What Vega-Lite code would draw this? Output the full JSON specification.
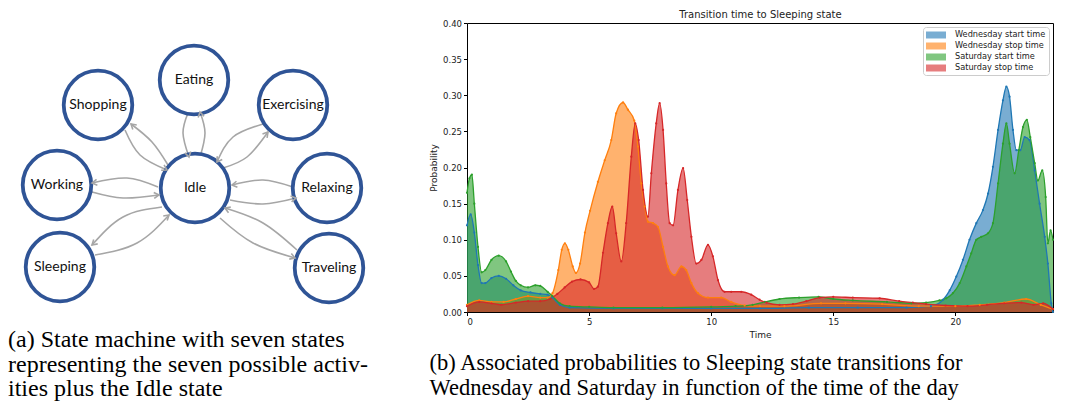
{
  "$schema": "https://vega.github.io/schema/vega-lite/v6.json",
  "background": "white",
  "padding": {"left": 0, "top": 8, "right": 0, "bottom": 0},
  "spacing": 9,
  "resolve": {"scale": {"color": "independent"}, "legend": {"color": "independent"}},
  "config": {"view": {"stroke": null}, "font": "DejaVu Sans"},
  "datasets": {
    "nodes": [
      {"name": "Eating", "x": 194, "y": 80},
      {"name": "Shopping", "x": 98, "y": 105},
      {"name": "Exercising", "x": 293, "y": 105},
      {"name": "Working", "x": 57, "y": 185},
      {"name": "Idle", "x": 195, "y": 188},
      {"name": "Relaxing", "x": 327, "y": 188},
      {"name": "Sleeping", "x": 60, "y": 267},
      {"name": "Traveling", "x": 329, "y": 268}
    ],
    "edges": [
      {"e": "S1", "k": 0, "x": 168, "y": 165}, {"e": "S1", "k": 1, "x": 152, "y": 142}, {"e": "S1", "k": 2, "x": 131, "y": 124},
      {"e": "S2", "k": 0, "x": 125, "y": 130}, {"e": "S2", "k": 1, "x": 140, "y": 155}, {"e": "S2", "k": 2, "x": 167, "y": 170},
      {"e": "E1", "k": 0, "x": 188, "y": 113}, {"e": "E1", "k": 1, "x": 183, "y": 133}, {"e": "E1", "k": 2, "x": 189, "y": 157},
      {"e": "E2", "k": 0, "x": 200, "y": 157}, {"e": "E2", "k": 1, "x": 205, "y": 133}, {"e": "E2", "k": 2, "x": 200, "y": 112},
      {"e": "X1", "k": 0, "x": 223, "y": 168}, {"e": "X1", "k": 1, "x": 247, "y": 157}, {"e": "X1", "k": 2, "x": 268, "y": 132},
      {"e": "X2", "k": 0, "x": 263, "y": 124}, {"e": "X2", "k": 1, "x": 233, "y": 137}, {"e": "X2", "k": 2, "x": 217, "y": 162},
      {"e": "W1", "k": 0, "x": 158, "y": 187}, {"e": "W1", "k": 1, "x": 127, "y": 178}, {"e": "W1", "k": 2, "x": 92, "y": 183},
      {"e": "W2", "k": 0, "x": 92, "y": 192}, {"e": "W2", "k": 1, "x": 123, "y": 198}, {"e": "W2", "k": 2, "x": 159, "y": 195},
      {"e": "R1", "k": 0, "x": 293, "y": 187}, {"e": "R1", "k": 1, "x": 263, "y": 180}, {"e": "R1", "k": 2, "x": 232, "y": 185},
      {"e": "R2", "k": 0, "x": 230, "y": 200}, {"e": "R2", "k": 1, "x": 263, "y": 204}, {"e": "R2", "k": 2, "x": 296, "y": 198},
      {"e": "L1", "k": 0, "x": 162, "y": 207}, {"e": "L1", "k": 1, "x": 123, "y": 217}, {"e": "L1", "k": 2, "x": 92, "y": 245},
      {"e": "L2", "k": 0, "x": 95, "y": 255}, {"e": "L2", "k": 1, "x": 137, "y": 243}, {"e": "L2", "k": 2, "x": 169, "y": 215},
      {"e": "T1", "k": 0, "x": 297, "y": 250}, {"e": "T1", "k": 1, "x": 263, "y": 223}, {"e": "T1", "k": 2, "x": 225, "y": 208},
      {"e": "T2", "k": 0, "x": 220, "y": 218}, {"e": "T2", "k": 1, "x": 253, "y": 243}, {"e": "T2", "k": 2, "x": 295, "y": 258}
    ],
    "heads": [
      {"e": "S1", "x": 131, "y": 124, "a": -49},
      {"e": "S2", "x": 167, "y": 170, "a": 119},
      {"e": "E1", "x": 189, "y": 157, "a": 166},
      {"e": "E2", "x": 200, "y": 112, "a": -13},
      {"e": "X1", "x": 268, "y": 132, "a": 40},
      {"e": "X2", "x": 217, "y": 162, "a": -147},
      {"e": "W1", "x": 92, "y": 183, "a": -98},
      {"e": "W2", "x": 159, "y": 195, "a": 85},
      {"e": "R1", "x": 232, "y": 185, "a": -99},
      {"e": "R2", "x": 296, "y": 198, "a": 80},
      {"e": "L1", "x": 92, "y": 245, "a": -132},
      {"e": "L2", "x": 169, "y": 215, "a": 49},
      {"e": "T1", "x": 225, "y": 208, "a": -68},
      {"e": "T2", "x": 295, "y": 258, "a": 110}
    ],
    "hist": [
      {"s": "Wednesday start time", "t": 0, "p": 0.12},
      {"s": "Wednesday start time", "t": 0.15, "p": 0.135},
      {"s": "Wednesday start time", "t": 0.3, "p": 0.11},
      {"s": "Wednesday start time", "t": 0.45, "p": 0.065},
      {"s": "Wednesday start time", "t": 0.6, "p": 0.04},
      {"s": "Wednesday start time", "t": 0.75, "p": 0.04},
      {"s": "Wednesday start time", "t": 1.0, "p": 0.047},
      {"s": "Wednesday start time", "t": 1.3, "p": 0.05},
      {"s": "Wednesday start time", "t": 1.6, "p": 0.046},
      {"s": "Wednesday start time", "t": 1.9, "p": 0.037},
      {"s": "Wednesday start time", "t": 2.2, "p": 0.03},
      {"s": "Wednesday start time", "t": 2.6, "p": 0.027},
      {"s": "Wednesday start time", "t": 3.0, "p": 0.025},
      {"s": "Wednesday start time", "t": 3.3, "p": 0.024},
      {"s": "Wednesday start time", "t": 3.5, "p": 0.02},
      {"s": "Wednesday start time", "t": 3.8, "p": 0.01},
      {"s": "Wednesday start time", "t": 4.2, "p": 0.006},
      {"s": "Wednesday start time", "t": 6, "p": 0.005},
      {"s": "Wednesday start time", "t": 8, "p": 0.005},
      {"s": "Wednesday start time", "t": 10, "p": 0.005},
      {"s": "Wednesday start time", "t": 12, "p": 0.005},
      {"s": "Wednesday start time", "t": 14, "p": 0.006},
      {"s": "Wednesday start time", "t": 16, "p": 0.006},
      {"s": "Wednesday start time", "t": 18, "p": 0.006},
      {"s": "Wednesday start time", "t": 19, "p": 0.008},
      {"s": "Wednesday start time", "t": 19.5, "p": 0.017},
      {"s": "Wednesday start time", "t": 19.77, "p": 0.03},
      {"s": "Wednesday start time", "t": 20.04, "p": 0.049},
      {"s": "Wednesday start time", "t": 20.31, "p": 0.072},
      {"s": "Wednesday start time", "t": 20.58, "p": 0.1},
      {"s": "Wednesday start time", "t": 20.86, "p": 0.123},
      {"s": "Wednesday start time", "t": 21.13, "p": 0.141},
      {"s": "Wednesday start time", "t": 21.34, "p": 0.164},
      {"s": "Wednesday start time", "t": 21.54, "p": 0.201},
      {"s": "Wednesday start time", "t": 21.75, "p": 0.252},
      {"s": "Wednesday start time", "t": 21.95, "p": 0.293},
      {"s": "Wednesday start time", "t": 22.09, "p": 0.312},
      {"s": "Wednesday start time", "t": 22.22, "p": 0.298},
      {"s": "Wednesday start time", "t": 22.36, "p": 0.252},
      {"s": "Wednesday start time", "t": 22.5, "p": 0.224},
      {"s": "Wednesday start time", "t": 22.66, "p": 0.224},
      {"s": "Wednesday start time", "t": 22.84, "p": 0.242},
      {"s": "Wednesday start time", "t": 23.04, "p": 0.238},
      {"s": "Wednesday start time", "t": 23.25, "p": 0.196},
      {"s": "Wednesday start time", "t": 23.45, "p": 0.15},
      {"s": "Wednesday start time", "t": 23.66, "p": 0.104},
      {"s": "Wednesday start time", "t": 23.79, "p": 0.067},
      {"s": "Wednesday start time", "t": 23.93, "p": 0.012},
      {"s": "Wednesday start time", "t": 24, "p": 0},

      {"s": "Wednesday stop time", "t": 0, "p": 0.01},
      {"s": "Wednesday stop time", "t": 0.5, "p": 0.016},
      {"s": "Wednesday stop time", "t": 1.0, "p": 0.014},
      {"s": "Wednesday stop time", "t": 1.5, "p": 0.014},
      {"s": "Wednesday stop time", "t": 2.0, "p": 0.018},
      {"s": "Wednesday stop time", "t": 2.5, "p": 0.022},
      {"s": "Wednesday stop time", "t": 3.0, "p": 0.02},
      {"s": "Wednesday stop time", "t": 3.3, "p": 0.02},
      {"s": "Wednesday stop time", "t": 3.5, "p": 0.026},
      {"s": "Wednesday stop time", "t": 3.74, "p": 0.058},
      {"s": "Wednesday stop time", "t": 3.88, "p": 0.086},
      {"s": "Wednesday stop time", "t": 4.01, "p": 0.095},
      {"s": "Wednesday stop time", "t": 4.15, "p": 0.086},
      {"s": "Wednesday stop time", "t": 4.33, "p": 0.063},
      {"s": "Wednesday stop time", "t": 4.46, "p": 0.054},
      {"s": "Wednesday stop time", "t": 4.63, "p": 0.067},
      {"s": "Wednesday stop time", "t": 4.83, "p": 0.11},
      {"s": "Wednesday stop time", "t": 5.04, "p": 0.14},
      {"s": "Wednesday stop time", "t": 5.36, "p": 0.18},
      {"s": "Wednesday stop time", "t": 5.64, "p": 0.21},
      {"s": "Wednesday stop time", "t": 5.91, "p": 0.238},
      {"s": "Wednesday stop time", "t": 6.11, "p": 0.275},
      {"s": "Wednesday stop time", "t": 6.39, "p": 0.29},
      {"s": "Wednesday stop time", "t": 6.59, "p": 0.28},
      {"s": "Wednesday stop time", "t": 6.85, "p": 0.265},
      {"s": "Wednesday stop time", "t": 7.0, "p": 0.229},
      {"s": "Wednesday stop time", "t": 7.14, "p": 0.178},
      {"s": "Wednesday stop time", "t": 7.28, "p": 0.146},
      {"s": "Wednesday stop time", "t": 7.41, "p": 0.125},
      {"s": "Wednesday stop time", "t": 7.62, "p": 0.123},
      {"s": "Wednesday stop time", "t": 7.82, "p": 0.118},
      {"s": "Wednesday stop time", "t": 8.03, "p": 0.09},
      {"s": "Wednesday stop time", "t": 8.23, "p": 0.063},
      {"s": "Wednesday stop time", "t": 8.5, "p": 0.051},
      {"s": "Wednesday stop time", "t": 8.78, "p": 0.063},
      {"s": "Wednesday stop time", "t": 8.98, "p": 0.058},
      {"s": "Wednesday stop time", "t": 9.19, "p": 0.04},
      {"s": "Wednesday stop time", "t": 9.46, "p": 0.026},
      {"s": "Wednesday stop time", "t": 9.87, "p": 0.02},
      {"s": "Wednesday stop time", "t": 10.41, "p": 0.02},
      {"s": "Wednesday stop time", "t": 10.82, "p": 0.014},
      {"s": "Wednesday stop time", "t": 11.37, "p": 0.009},
      {"s": "Wednesday stop time", "t": 12, "p": 0.008},
      {"s": "Wednesday stop time", "t": 13, "p": 0.008},
      {"s": "Wednesday stop time", "t": 14.5, "p": 0.012},
      {"s": "Wednesday stop time", "t": 15.5, "p": 0.012},
      {"s": "Wednesday stop time", "t": 17, "p": 0.011},
      {"s": "Wednesday stop time", "t": 18.5, "p": 0.008},
      {"s": "Wednesday stop time", "t": 20, "p": 0.008},
      {"s": "Wednesday stop time", "t": 21, "p": 0.01},
      {"s": "Wednesday stop time", "t": 22, "p": 0.013},
      {"s": "Wednesday stop time", "t": 22.9, "p": 0.018},
      {"s": "Wednesday stop time", "t": 23.5, "p": 0.01},
      {"s": "Wednesday stop time", "t": 24, "p": 0.004},

      {"s": "Saturday start time", "t": 0, "p": 0.165},
      {"s": "Saturday start time", "t": 0.1, "p": 0.185},
      {"s": "Saturday start time", "t": 0.2, "p": 0.19},
      {"s": "Saturday start time", "t": 0.3, "p": 0.15},
      {"s": "Saturday start time", "t": 0.45, "p": 0.09},
      {"s": "Saturday start time", "t": 0.6, "p": 0.055},
      {"s": "Saturday start time", "t": 0.75, "p": 0.058},
      {"s": "Saturday start time", "t": 1.0, "p": 0.072},
      {"s": "Saturday start time", "t": 1.3, "p": 0.078},
      {"s": "Saturday start time", "t": 1.6, "p": 0.07},
      {"s": "Saturday start time", "t": 1.8, "p": 0.056},
      {"s": "Saturday start time", "t": 2.0, "p": 0.043},
      {"s": "Saturday start time", "t": 2.2, "p": 0.037},
      {"s": "Saturday start time", "t": 2.5, "p": 0.034},
      {"s": "Saturday start time", "t": 2.8, "p": 0.037},
      {"s": "Saturday start time", "t": 3.0, "p": 0.036},
      {"s": "Saturday start time", "t": 3.3, "p": 0.028},
      {"s": "Saturday start time", "t": 3.5, "p": 0.022},
      {"s": "Saturday start time", "t": 3.8, "p": 0.012},
      {"s": "Saturday start time", "t": 4.2, "p": 0.008},
      {"s": "Saturday start time", "t": 5, "p": 0.007},
      {"s": "Saturday start time", "t": 6, "p": 0.006},
      {"s": "Saturday start time", "t": 8, "p": 0.006},
      {"s": "Saturday start time", "t": 10, "p": 0.007},
      {"s": "Saturday start time", "t": 11, "p": 0.008},
      {"s": "Saturday start time", "t": 11.7, "p": 0.01},
      {"s": "Saturday start time", "t": 12.2, "p": 0.014},
      {"s": "Saturday start time", "t": 12.8, "p": 0.018},
      {"s": "Saturday start time", "t": 13.6, "p": 0.02},
      {"s": "Saturday start time", "t": 14.4, "p": 0.021},
      {"s": "Saturday start time", "t": 15, "p": 0.018},
      {"s": "Saturday start time", "t": 15.8, "p": 0.016},
      {"s": "Saturday start time", "t": 17.2, "p": 0.014},
      {"s": "Saturday start time", "t": 18.2, "p": 0.012},
      {"s": "Saturday start time", "t": 18.8, "p": 0.013},
      {"s": "Saturday start time", "t": 19.35, "p": 0.016},
      {"s": "Saturday start time", "t": 19.63, "p": 0.019},
      {"s": "Saturday start time", "t": 19.9, "p": 0.026},
      {"s": "Saturday start time", "t": 20.18, "p": 0.04},
      {"s": "Saturday start time", "t": 20.45, "p": 0.063},
      {"s": "Saturday start time", "t": 20.65, "p": 0.081},
      {"s": "Saturday start time", "t": 20.86, "p": 0.1},
      {"s": "Saturday start time", "t": 21.06, "p": 0.104},
      {"s": "Saturday start time", "t": 21.34, "p": 0.109},
      {"s": "Saturday start time", "t": 21.54, "p": 0.123},
      {"s": "Saturday start time", "t": 21.75, "p": 0.178},
      {"s": "Saturday start time", "t": 21.95, "p": 0.233},
      {"s": "Saturday start time", "t": 22.09, "p": 0.261},
      {"s": "Saturday start time", "t": 22.22, "p": 0.233},
      {"s": "Saturday start time", "t": 22.43, "p": 0.192},
      {"s": "Saturday start time", "t": 22.6, "p": 0.224},
      {"s": "Saturday start time", "t": 22.77, "p": 0.256},
      {"s": "Saturday start time", "t": 22.93, "p": 0.266},
      {"s": "Saturday start time", "t": 23.07, "p": 0.242},
      {"s": "Saturday start time", "t": 23.25, "p": 0.206},
      {"s": "Saturday start time", "t": 23.38, "p": 0.182},
      {"s": "Saturday start time", "t": 23.56, "p": 0.196},
      {"s": "Saturday start time", "t": 23.7, "p": 0.159},
      {"s": "Saturday start time", "t": 23.79, "p": 0.095},
      {"s": "Saturday start time", "t": 23.9, "p": 0.113},
      {"s": "Saturday start time", "t": 24, "p": 0.1},

      {"s": "Saturday stop time", "t": 0, "p": 0.008},
      {"s": "Saturday stop time", "t": 0.5, "p": 0.014},
      {"s": "Saturday stop time", "t": 1.0, "p": 0.012},
      {"s": "Saturday stop time", "t": 1.4, "p": 0.01},
      {"s": "Saturday stop time", "t": 2.0, "p": 0.013},
      {"s": "Saturday stop time", "t": 2.5, "p": 0.015},
      {"s": "Saturday stop time", "t": 3.0, "p": 0.015},
      {"s": "Saturday stop time", "t": 3.4, "p": 0.018},
      {"s": "Saturday stop time", "t": 3.7, "p": 0.025},
      {"s": "Saturday stop time", "t": 4.0, "p": 0.034},
      {"s": "Saturday stop time", "t": 4.3, "p": 0.042},
      {"s": "Saturday stop time", "t": 4.65, "p": 0.045},
      {"s": "Saturday stop time", "t": 5.0, "p": 0.041},
      {"s": "Saturday stop time", "t": 5.2, "p": 0.032},
      {"s": "Saturday stop time", "t": 5.36, "p": 0.035},
      {"s": "Saturday stop time", "t": 5.57, "p": 0.082},
      {"s": "Saturday stop time", "t": 5.77, "p": 0.123},
      {"s": "Saturday stop time", "t": 5.95, "p": 0.146},
      {"s": "Saturday stop time", "t": 6.11, "p": 0.109},
      {"s": "Saturday stop time", "t": 6.32, "p": 0.07},
      {"s": "Saturday stop time", "t": 6.52, "p": 0.123},
      {"s": "Saturday stop time", "t": 6.73, "p": 0.215},
      {"s": "Saturday stop time", "t": 6.89, "p": 0.261},
      {"s": "Saturday stop time", "t": 7.03, "p": 0.238},
      {"s": "Saturday stop time", "t": 7.21, "p": 0.169},
      {"s": "Saturday stop time", "t": 7.41, "p": 0.132},
      {"s": "Saturday stop time", "t": 7.55, "p": 0.192},
      {"s": "Saturday stop time", "t": 7.75, "p": 0.261},
      {"s": "Saturday stop time", "t": 7.89, "p": 0.289},
      {"s": "Saturday stop time", "t": 8.03, "p": 0.252},
      {"s": "Saturday stop time", "t": 8.16, "p": 0.178},
      {"s": "Saturday stop time", "t": 8.3, "p": 0.123},
      {"s": "Saturday stop time", "t": 8.44, "p": 0.12},
      {"s": "Saturday stop time", "t": 8.64, "p": 0.169},
      {"s": "Saturday stop time", "t": 8.85, "p": 0.199},
      {"s": "Saturday stop time", "t": 9.02, "p": 0.155},
      {"s": "Saturday stop time", "t": 9.19, "p": 0.104},
      {"s": "Saturday stop time", "t": 9.39, "p": 0.067},
      {"s": "Saturday stop time", "t": 9.6, "p": 0.072},
      {"s": "Saturday stop time", "t": 9.87, "p": 0.093},
      {"s": "Saturday stop time", "t": 10.07, "p": 0.077},
      {"s": "Saturday stop time", "t": 10.28, "p": 0.044},
      {"s": "Saturday stop time", "t": 10.55, "p": 0.028},
      {"s": "Saturday stop time", "t": 10.82, "p": 0.028},
      {"s": "Saturday stop time", "t": 11.23, "p": 0.028},
      {"s": "Saturday stop time", "t": 11.64, "p": 0.024},
      {"s": "Saturday stop time", "t": 11.98, "p": 0.017},
      {"s": "Saturday stop time", "t": 12.26, "p": 0.013},
      {"s": "Saturday stop time", "t": 12.8, "p": 0.01},
      {"s": "Saturday stop time", "t": 13.35, "p": 0.011},
      {"s": "Saturday stop time", "t": 13.9, "p": 0.015},
      {"s": "Saturday stop time", "t": 14.44, "p": 0.02},
      {"s": "Saturday stop time", "t": 15.0, "p": 0.021},
      {"s": "Saturday stop time", "t": 15.8, "p": 0.02},
      {"s": "Saturday stop time", "t": 16.9, "p": 0.019},
      {"s": "Saturday stop time", "t": 17.7, "p": 0.015},
      {"s": "Saturday stop time", "t": 18.26, "p": 0.013},
      {"s": "Saturday stop time", "t": 18.8, "p": 0.011},
      {"s": "Saturday stop time", "t": 19.6, "p": 0.009},
      {"s": "Saturday stop time", "t": 20.5, "p": 0.008},
      {"s": "Saturday stop time", "t": 21.3, "p": 0.01},
      {"s": "Saturday stop time", "t": 22, "p": 0.012},
      {"s": "Saturday stop time", "t": 22.7, "p": 0.013},
      {"s": "Saturday stop time", "t": 23.2, "p": 0.01},
      {"s": "Saturday stop time", "t": 23.6, "p": 0.012},
      {"s": "Saturday stop time", "t": 24, "p": 0.004}
    ],
    "edgesAt": [{"t": 0}, {"t": 24}]
  },
  "hconcat": [
    {
      "width": 420,
      "height": 295,
      "title": {
        "text": ["(a) State machine with seven states", "representing the seven possible activ-", "ities plus the Idle state"],
        "orient": "bottom", "anchor": "start", "font": "Liberation Serif", "fontSize": 24, "fontWeight": "normal",
        "lineHeight": 24.5, "offset": 10, "dx": 8, "color": "black"
      },
      "layer": [
        {
          "data": {"name": "edges"},
          "mark": {"type": "line", "interpolate": "natural", "stroke": "#a6a6a6", "strokeWidth": 1.6},
          "encoding": {
            "x": {"field": "x", "type": "quantitative", "scale": {"domain": [0, 420], "nice": false, "zero": false}, "axis": null},
            "y": {"field": "y", "type": "quantitative", "scale": {"domain": [23, 318], "nice": false, "zero": false, "reverse": true}, "axis": null},
            "detail": {"field": "e"},
            "order": {"field": "k"}
          }
        },
        {
          "data": {"name": "nodes"},
          "mark": {"type": "point", "shape": "circle", "filled": true, "fill": "white", "stroke": "#2f5496", "strokeWidth": 3.8, "size": 4700, "opacity": 1},
          "encoding": {
            "x": {"field": "x", "type": "quantitative"},
            "y": {"field": "y", "type": "quantitative"}
          }
        },
        {
          "data": {"name": "heads"},
          "mark": {"type": "point", "shape": "M-0.6,1L0,0L0.6,1", "filled": false, "stroke": "#a6a6a6", "strokeWidth": 1.6, "size": 100, "opacity": 1},
          "encoding": {
            "x": {"field": "x", "type": "quantitative"},
            "y": {"field": "y", "type": "quantitative"},
            "angle": {"field": "a", "type": "quantitative", "scale": null}
          }
        },
        {
          "data": {"name": "nodes"},
          "mark": {"type": "text", "font": "Lato", "fontSize": 14, "color": "#111111"},
          "encoding": {
            "x": {"field": "x", "type": "quantitative"},
            "y": {"field": "y", "type": "quantitative"},
            "text": {"field": "name"}
          }
        }
      ]
    },
    {
      "width": 586,
      "height": 289,
      "view": {"stroke": "black", "strokeWidth": 1},
      "title": {
        "text": ["(b) Associated probabilities to Sleeping state transitions for", "Wednesday and Saturday in function of the time of the day"],
        "orient": "bottom", "anchor": "start", "font": "Liberation Serif", "fontSize": 22.5, "fontWeight": "normal",
        "lineHeight": 25, "offset": 13, "dx": 0, "color": "black"
      },
      "data": {"name": "hist"},
      "encoding": {
        "x": {"field": "t", "type": "quantitative", "scale": {"domain": [0, 24], "nice": false, "zero": false}, "axis": null},
        "y": {
          "field": "p", "type": "quantitative", "stack": null,
          "scale": {"domain": [0, 0.4], "nice": false},
          "axis": {"values": [0, 0.05, 0.1, 0.15, 0.2, 0.25, 0.3, 0.35, 0.4], "format": ".2f", "title": "Probability", "grid": false, "domain": false,
            "tickColor": "#000000", "tickSize": 3.5,
            "labelFont": "DejaVu Sans", "labelFontSize": 8.5, "labelColor": "#222222", "labelPadding": 2,
            "titleFont": "DejaVu Sans", "titleFontSize": 9, "titleFontWeight": "normal", "titleColor": "#222222", "titlePadding": 4}
        }
      },
      "layer": [
        {
          "transform": [{"filter": "datum.s === 'Wednesday start time'"}],
          "mark": {"type": "area", "interpolate": "monotone", "opacity": 0.6},
          "encoding": {
            "x": {"field": "t", "type": "quantitative", "scale": {"domain": [0, 24], "nice": false, "zero": false},
              "axis": {"orient": "bottom", "values": [0, 5, 10, 15, 20], "title": "Time", "grid": false, "domain": false, "tickColor": "#000000", "tickSize": 3.5,
                "labelFont": "DejaVu Sans", "labelFontSize": 8.5, "labelColor": "#222222", "labelPadding": 2,
                "titleFont": "DejaVu Sans", "titleFontSize": 9, "titleFontWeight": "normal", "titleColor": "#222222", "titlePadding": 4}},
            "color": {"field": "s", "type": "nominal",
            "scale": {"domain": ["Wednesday start time", "Wednesday stop time", "Saturday start time", "Saturday stop time"], "range": ["#1f77b4", "#ff7f0e", "#2ca02c", "#d62728"]},
            "legend": {"title": null, "orient": "top-right", "offset": 4, "padding": 3, "fillColor": "white", "strokeColor": "#cccccc", "cornerRadius": 3,
              "labelFont": "DejaVu Sans", "labelFontSize": 8.2, "labelColor": "#222222", "symbolType": "M-2,-0.7H2V0.7H-2Z", "symbolSize": 100,
              "symbolOffset": 5, "symbolOpacity": 0.6, "symbolStrokeWidth": 0, "rowPadding": 2, "labelOffset": 14}}}
        },
        {
          "transform": [{"filter": "datum.s === 'Wednesday stop time'"}],
          "mark": {"type": "area", "interpolate": "monotone", "opacity": 0.6},
          "encoding": {"color": {"field": "s", "type": "nominal",
            "scale": {"domain": ["Wednesday start time", "Wednesday stop time", "Saturday start time", "Saturday stop time"], "range": ["#1f77b4", "#ff7f0e", "#2ca02c", "#d62728"]},
            "legend": {"title": null, "orient": "top-right", "offset": 4, "padding": 3, "fillColor": "white", "strokeColor": "#cccccc", "cornerRadius": 3,
              "labelFont": "DejaVu Sans", "labelFontSize": 8.2, "labelColor": "#222222", "symbolType": "M-2,-0.7H2V0.7H-2Z", "symbolSize": 100,
              "symbolOffset": 5, "symbolOpacity": 0.6, "symbolStrokeWidth": 0, "rowPadding": 2, "labelOffset": 14}}}
        },
        {
          "transform": [{"filter": "datum.s === 'Saturday start time'"}],
          "mark": {"type": "area", "interpolate": "monotone", "opacity": 0.6},
          "encoding": {"color": {"field": "s", "type": "nominal",
            "scale": {"domain": ["Wednesday start time", "Wednesday stop time", "Saturday start time", "Saturday stop time"], "range": ["#1f77b4", "#ff7f0e", "#2ca02c", "#d62728"]},
            "legend": {"title": null, "orient": "top-right", "offset": 4, "padding": 3, "fillColor": "white", "strokeColor": "#cccccc", "cornerRadius": 3,
              "labelFont": "DejaVu Sans", "labelFontSize": 8.2, "labelColor": "#222222", "symbolType": "M-2,-0.7H2V0.7H-2Z", "symbolSize": 100,
              "symbolOffset": 5, "symbolOpacity": 0.6, "symbolStrokeWidth": 0, "rowPadding": 2, "labelOffset": 14}}}
        },
        {
          "transform": [{"filter": "datum.s === 'Saturday stop time'"}],
          "mark": {"type": "area", "interpolate": "monotone", "opacity": 0.6},
          "encoding": {"color": {"field": "s", "type": "nominal",
            "scale": {"domain": ["Wednesday start time", "Wednesday stop time", "Saturday start time", "Saturday stop time"], "range": ["#1f77b4", "#ff7f0e", "#2ca02c", "#d62728"]},
            "legend": {"title": null, "orient": "top-right", "offset": 4, "padding": 3, "fillColor": "white", "strokeColor": "#cccccc", "cornerRadius": 3,
              "labelFont": "DejaVu Sans", "labelFontSize": 8.2, "labelColor": "#222222", "symbolType": "M-2,-0.7H2V0.7H-2Z", "symbolSize": 100,
              "symbolOffset": 5, "symbolOpacity": 0.6, "symbolStrokeWidth": 0, "rowPadding": 2, "labelOffset": 14}}}
        },
        {
          "mark": {"type": "line", "interpolate": "monotone", "strokeWidth": 1.3},
          "encoding": {"color": {"field": "s", "type": "nominal", "legend": null}}
        },
        {
          "mark": {"type": "point", "filled": true, "size": 5, "opacity": 1},
          "encoding": {"color": {"field": "s", "type": "nominal", "legend": null}}
        },
        {
          "data": {"name": "edgesAt"},
          "mark": {"type": "rule", "color": "#d62728", "strokeDash": [4, 2], "strokeWidth": 1},
          "encoding": {
            "x": {"field": "t", "type": "quantitative", "scale": {"domain": [0, 24], "nice": false, "zero": false},
              "axis": {"orient": "top", "title": "Transition time to Sleeping state", "labels": false, "ticks": false, "domain": false, "grid": false,
                "titleFont": "DejaVu Sans", "titleFontSize": 10, "titleFontWeight": "normal", "titleColor": "#222222", "titlePadding": 4}},
            "y": {"datum": 0},
            "y2": {"datum": 0.4}
          }
        }
      ]
    }
  ]
}
